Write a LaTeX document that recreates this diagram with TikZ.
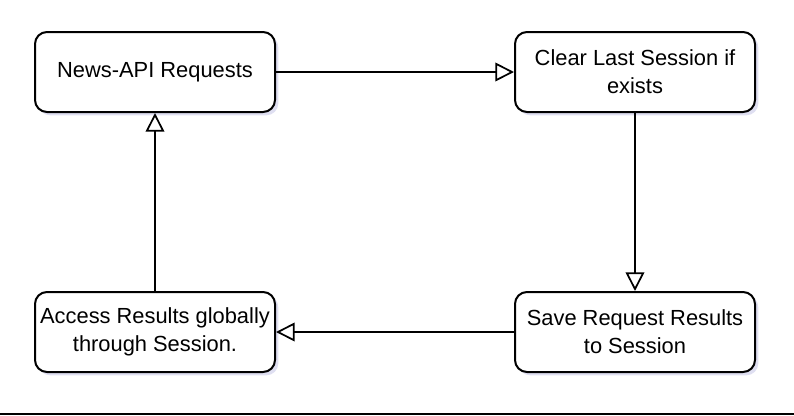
\documentclass[tikz,border=0pt]{standalone}
\usepackage{fontspec}
\setmainfont{Liberation Sans}
\usetikzlibrary{arrows.meta,shadows}

\tikzset{
  stepbox/.style={draw, line width=1.5pt, rounded corners=9pt, fill=white,
    minimum width=240*0.75pt, minimum height=80*0.75pt, align=center,
    font=\fontsize{16.4}{21}\selectfont, inner sep=0pt,
    drop shadow={shadow xshift=2.5pt, shadow yshift=-2.5pt, opacity=0.18, fill=blue!40!gray}},
  flow/.style={line width=1.3pt, -{Triangle[open, length=14pt, width=14pt, line width=1.3pt]}}
}

\begin{document}
\begin{tikzpicture}[x=0.75pt, y=-0.75pt]
    \useasboundingbox (0,0) rectangle (794,415);
    \node[stepbox] (req) at (155,72) {News-API Requests};
    \node[stepbox] (clear) at (635,72) {Clear Last Session if\\exists};
    \node[stepbox] (save) at (635,332) {Save Request Results\\to Session};
    \node[stepbox] (access) at (155,332) {Access Results globally\\through Session.};
    \draw[flow] (req) -- (clear);
    \draw[flow] (clear) -- (save);
    \draw[flow] (save) -- (access);
    \draw[flow] (access) -- (req);
    % rule at the bottom
    \fill[black] (0,413) rectangle (794,415);
\end{tikzpicture}
\end{document}
